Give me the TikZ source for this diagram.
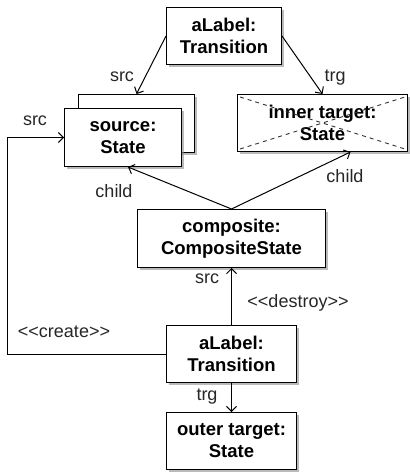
\documentclass[tikz,border=0pt]{standalone}
\usepackage{fontspec}
\setmainfont{Liberation Sans}
\usetikzlibrary{arrows.meta,shadows}
\begin{document}
\begin{tikzpicture}[x=1pt,y=-1pt,
  obj/.style={draw=black, line width=1pt, fill=white, anchor=north west,
    inner sep=0pt, align=center, font=\fontsize{18.5}{22}\selectfont\bfseries,
    drop shadow={shadow xshift=2.5pt, shadow yshift=-2.5pt, fill=black!45, opacity=0.6}},
  lbl/.style={anchor=base, inner sep=0pt, font=\fontsize{18}{20}\selectfont, text=black!85},
  link/.style={line width=1pt, -{Straight Barb[length=5pt,width=10pt,line width=1pt]}},
  plain/.style={line width=1pt}]
\useasboundingbox (0,0) rectangle (409,473);

% object boxes
\node[obj, minimum width=115pt, minimum height=57pt] (t1) at (166,7) {aLabel:\\Transition};
\node[obj, minimum width=116pt, minimum height=58pt] (srcback) at (78,94) {};
\node[obj, minimum width=117pt, minimum height=58pt] (src) at (64,108) {source:\\State};
\node[obj, minimum width=170pt, minimum height=57pt] (inner) at (237,94) {inner target:\\State};
\node[obj, minimum width=188pt, minimum height=58pt] (comp) at (137,209) {composite:\\CompositeState};
\node[obj, minimum width=130pt, minimum height=57pt] (t2) at (166,325) {aLabel:\\Transition};
\node[obj, minimum width=130pt, minimum height=57pt] (outer) at (166,412) {outer target:\\State};

% the deleted target is crossed out
\draw[line width=0.9pt, black!80, dash pattern=on 4pt off 4pt]
  ([shift={(3,3)}]inner.north west) -- ([shift={(-3,-3)}]inner.south east)
  ([shift={(3,-3)}]inner.south west) -- ([shift={(-3,3)}]inner.north east);

% connectors
\draw[link] (t1.west) -- (srcback.north);
\draw[link] (t1.east) -- (inner.north);
\draw[link] (comp.north) -- ([xshift=5pt]src.south);
\draw[link] (comp.north) -- ([xshift=28pt]inner.south);
\draw[link] (t2.north) -- (comp.south);
\draw[link] (t2.south) -- (outer.north);
\coordinate (bend) at (7,353);
\draw[link] (t2.west) -- (t2.west -| bend) |- (src.west);

% labels
\node[lbl] (l1) at (122,82) {src};
\node[lbl] (l2) at (335,82) {trg};
\node[lbl] (l3) at (35,126) {src};
\node[lbl] (l4) at (114,197) {child};
\node[lbl] (l5) at (345,182) {child};
\node[lbl] (l6) at (207,283) {src};
\node[lbl] (l7) at (298,307) {<{}<destroy>{}>};
\node[lbl] (l8) at (64,337) {<{}<create>{}>};
\node[lbl] (l9) at (207,400) {trg};
\end{tikzpicture}
\end{document}
